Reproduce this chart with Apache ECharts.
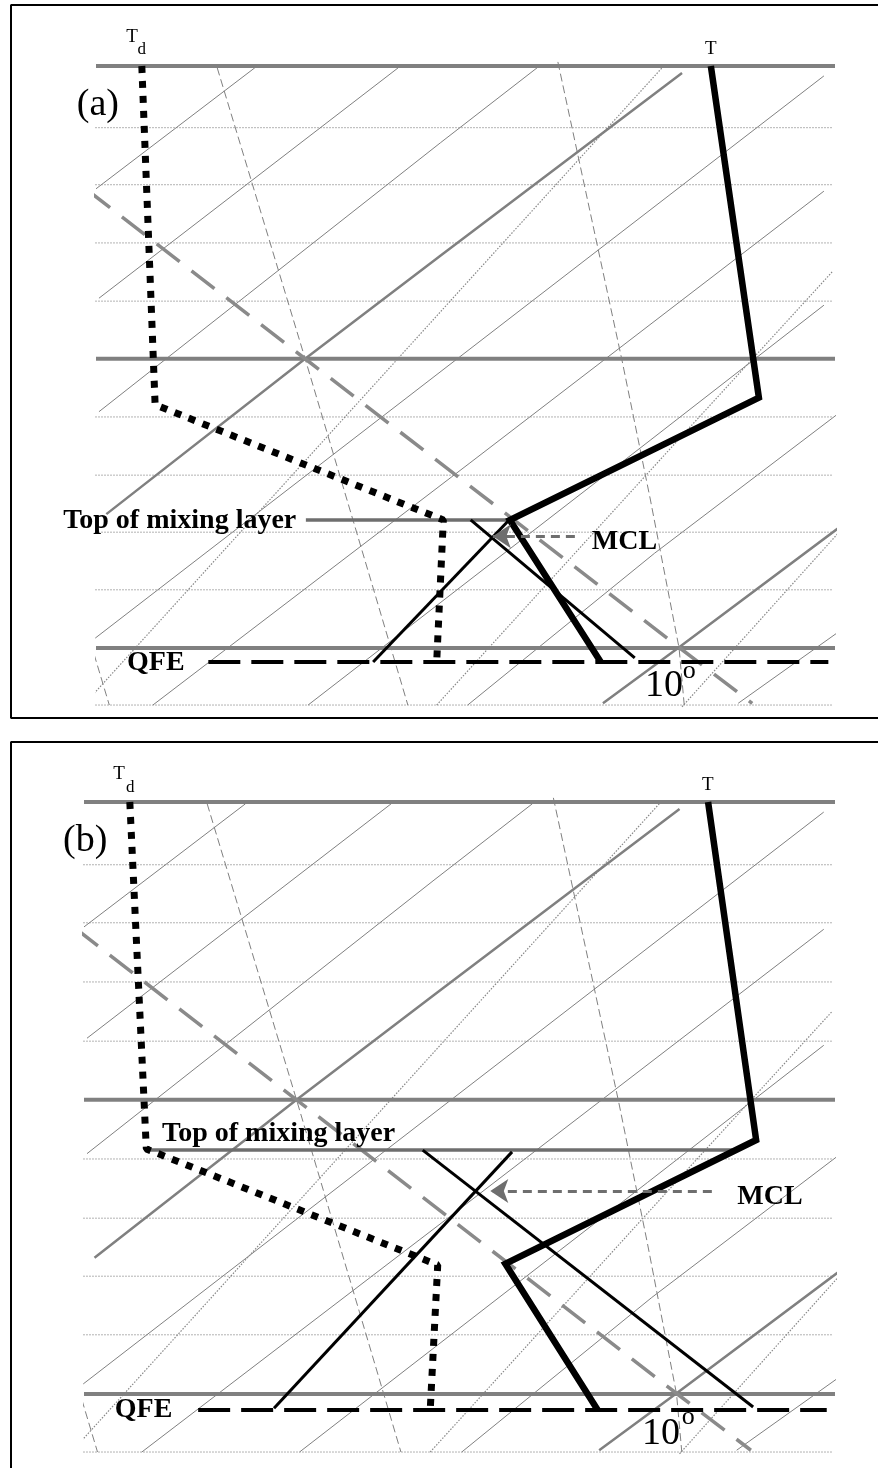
<!DOCTYPE html>
<html><head><meta charset="utf-8">
<script src="https://cdn.jsdelivr.net/npm/echarts@6/dist/echarts.min.js"></script>
<style>html,body{margin:0;padding:0;background:#fff}#c{width:878px;height:1468px}</style>
</head><body><div id="c"></div><script>
const FONT = '"Liberation Serif","Times New Roman",serif';

// ---------- shared diagram background (u = 0..100 across, v = 0..100 bottom to top isobar) ----------
const isobarLevels = [0, 49.7, 100];
const isobarSpan = [0, 100];
const dottedLevels = [-9.8, 10.0, 19.9, 29.7, 39.7, 59.6, 69.6, 79.6, 89.4];
const dottedSpan = [-0.1, 99.7];
const isotherms = [
  [[0, 78.9], [21.5, 99.7]],
  [[0.4, 60.1], [40.9, 99.7]],
  [[0.4, 40.6], [46.6, 86.8], [59.7, 99.7]],
  [[-0.1, 1.7], [98.5, 98.3]],
  [[7.7, -9.8], [50.6, 31.8], [98.5, 78.5]],
  [[28.7, -9.8], [75.0, 35.7], [98.5, 58.9]],
  [[50.3, -9.8], [75.6, 16.3], [101.4, 41.2]],
  [[86.9, -9.5], [101.4, 3.6]]
];
const thickIsotherms = [
  [[1.4, 23.0], [28.3, 49.7], [46.6, 67.4], [79.3, 98.8]],
  [[68.6, -9.5], [79.0, 0.2], [101.4, 21.5]]
];
const dryAdiabat = [[-1.2, 78.7], [28.3, 49.7], [79.0, 0], [88.8, -9.5]];
const satAdiabats = [
  [[-1.2, 2.9], [1.8, -9.8]],
  [[16.4, 99.7], [28.3, 49.7], [42.2, -9.8]],
  [[62.5, 100.7], [71.2, 49.3], [75.0, 25.6], [78.9, 0], [79.6, -9.8]]
];
const mixingRatios = [
  [[-1.9, -10.1], [40.7, 49.5], [76.6, 99.7]],
  [[46.1, -9.8], [76.3, 32.3], [99.6, 64.6]],
  [[79.3, -10.1], [101.4, 21.1]]
];

// ---------- panel frames (open on the right / bottom, in frame units 0..100) ----------
const frameA = [[100, 0], [0, 0], [0, 100], [100, 100]];
const frameB = [[0, 0], [0, 100], [100, 100]];

// ---------- panel (a) ----------
const tempA = [[83.2, 100], [89.7, 43.0], [56.0, 22.0], [68.3, -2.4]];
const dewA = [[6.2, 100], [8.0, 41.8], [47.0, 22.0], [46.1, -2.4]];
const parcelDryA = [[37.5, -2.4], [55.9, 22.0]];
const parcelMoistA = [[50.7, 22.0], [72.9, -1.7]];
const mixTopA = [[28.4, 22.0], [55.6, 22.0]];
const mclArrowA = [[64.8, 19.2], [53.7, 19.2]];
const qfeA = [[15.2, -2.4], [99.1, -2.4]];
const labelsA = [
  [27.1, 21.8, 'Top of mixing layer', 'boldR'],
  [4.2, -2.6, 'QFE', 'bold'],
  [67.1, 18.2, 'MCL', 'bold'],
  [74.3, -6.5, '10', 'big'],
  [79.4, -3.9, 'o', 'sup'],
  [-2.6, 93.3, '(a)', 'panel'],
  [4.1, 105.0, 'T', 'small'],
  [5.6, 102.9, 'd', 'sub'],
  [82.4, 102.9, 'T', 'small']
];

// ---------- panel (b) ----------
const tempB = [[83.1, 100], [89.5, 42.9], [56.1, 22.0], [68.4, -2.7]];
const dewB = [[6.1, 100], [8.3, 41.4], [47.1, 21.8], [46.1, -2.7]];
const parcelDryB = [[25.3, -2.4], [57.0, 40.9]];
const parcelMoistB = [[45.1, 41.2], [89.1, -2.2]];
const mixTopB = [[8.8, 41.2], [86.3, 41.2]];
const mclArrowB = [[83.6, 34.3], [54.1, 34.3]];
const qfeB = [[15.2, -2.7], [98.9, -2.7]];
const labelsB = [
  [10.4, 43.9, 'Top of mixing layer', 'bold'],
  [4.1, -2.7, 'QFE', 'bold'],
  [87.0, 33.3, 'MCL', 'bold'],
  [74.3, -6.8, '10', 'big'],
  [79.6, -3.9, 'o', 'sup'],
  [-2.8, 93.4, '(b)', 'panel'],
  [3.9, 104.7, 'T', 'small'],
  [5.6, 102.5, 'd', 'sub'],
  [82.3, 102.9, 'T', 'small']
];

// ---------- styles ----------
const GRAY = '#808080';
const labelStyles = {
  bold: {fontSize: 28, fontWeight: 'bold', align: 'left'},
  boldR: {fontSize: 28, fontWeight: 'bold', align: 'right'},
  big: {fontSize: 38, align: 'left'},
  sup: {fontSize: 26, align: 'left'},
  panel: {fontSize: 38, align: 'left'},
  small: {fontSize: 19, align: 'left'},
  sub: {fontSize: 17, align: 'left'}
};

function ls(ai, data, lineStyle, z) {
  return {type: 'line', xAxisIndex: ai, yAxisIndex: ai, data: data, symbol: 'none',
    silent: true, clip: false, animation: false, lineStyle: lineStyle, z: z || 2};
}

function background(ai) {
  const s = [];
  dottedLevels.forEach(l => s.push(ls(ai, [[dottedSpan[0], l], [dottedSpan[1], l]],
    {color: '#999', width: 1, type: [1.5, 1.5]}, 1)));
  isotherms.forEach(d => s.push(ls(ai, d, {color: GRAY, width: 1}, 1)));
  satAdiabats.forEach(d => s.push(ls(ai, d, {color: GRAY, width: 1, type: [8, 4]}, 1)));
  mixingRatios.forEach(d => s.push(ls(ai, d, {color: '#888', width: 1.2, type: [1.5, 1.5]}, 1)));
  thickIsotherms.forEach(d => s.push(ls(ai, d, {color: GRAY, width: 2.5}, 2)));
  isobarLevels.forEach(l => s.push(ls(ai, [[isobarSpan[0], l], [isobarSpan[1], l]],
    {color: GRAY, width: 4}, 2)));
  s.push(ls(ai, dryAdiabat, {color: '#8a8a8a', width: 3.5, type: [29, 15]}, 2));
  return s;
}

function foreground(ai, p) {
  const s = [];
  s.push(ls(ai, p.mixTop, {color: '#6e6e6e', width: 3.5}, 3));
  s.push(ls(ai, p.qfe, {color: '#000', width: 4, type: [32, 11]}, 3));
  s.push(ls(ai, p.pDry, {color: '#000', width: 3}, 4));
  s.push(ls(ai, p.pMoist, {color: '#000', width: 3}, 4));
  s.push(ls(ai, p.dew, {color: '#000', width: 7, type: [7, 8]}, 5));
  s.push(ls(ai, p.temp, {color: '#000', width: 6.5, join: 'miter'}, 5));
  s.push({type: 'lines', coordinateSystem: 'cartesian2d', xAxisIndex: ai, yAxisIndex: ai,
    silent: true, animation: false, z: 6,
    symbol: ['none', 'arrow'], symbolSize: 18,
    lineStyle: {color: '#6e6e6e', width: 3, type: [9, 6], opacity: 1},
    data: [{coords: p.mcl}]});
  s.push({type: 'scatter', xAxisIndex: ai, yAxisIndex: ai, silent: true, animation: false,
    clip: false, symbolSize: 1, itemStyle: {color: 'rgba(0,0,0,0)', opacity: 1}, z: 7,
    data: p.labels.map(l => ({value: [l[0], l[1]],
      label: Object.assign({show: true, position: 'inside', verticalAlign: 'middle',
        formatter: l[2], color: '#000', opacity: 1, fontFamily: FONT}, labelStyles[l[3]])}))});
  return s;
}

const axesX = [], axesY = [];
for (let i = 0; i < 4; i++) {
  axesX.push({type: 'value', gridIndex: i, min: 0, max: 100, show: false});
  axesY.push({type: 'value', gridIndex: i, min: 0, max: 100, show: false});
}

const series = [].concat(
  [ls(0, frameA, {color: '#000', width: 2}, 1), ls(2, frameB, {color: '#000', width: 2}, 1)],
  background(1),
  foreground(1, {temp: tempA, dew: dewA, pDry: parcelDryA, pMoist: parcelMoistA,
    mixTop: mixTopA, mcl: mclArrowA, qfe: qfeA, labels: labelsA}),
  background(3),
  foreground(3, {temp: tempB, dew: dewB, pDry: parcelDryB, pMoist: parcelMoistB,
    mixTop: mixTopB, mcl: mclArrowB, qfe: qfeB, labels: labelsB})
);

const chart = echarts.init(document.getElementById('c'), null, {renderer: 'canvas'});
chart.setOption({
  backgroundColor: '#fff',
  animation: false,
  grid: [
    {left: 11, top: 5, width: 867, height: 713},
    {left: 96, top: 66, width: 739, height: 582},
    {left: 11, top: 742, width: 867, height: 726},
    {left: 84, top: 802, width: 751, height: 592}
  ],
  xAxis: axesX,
  yAxis: axesY,
  series: series
});
</script></body></html>
